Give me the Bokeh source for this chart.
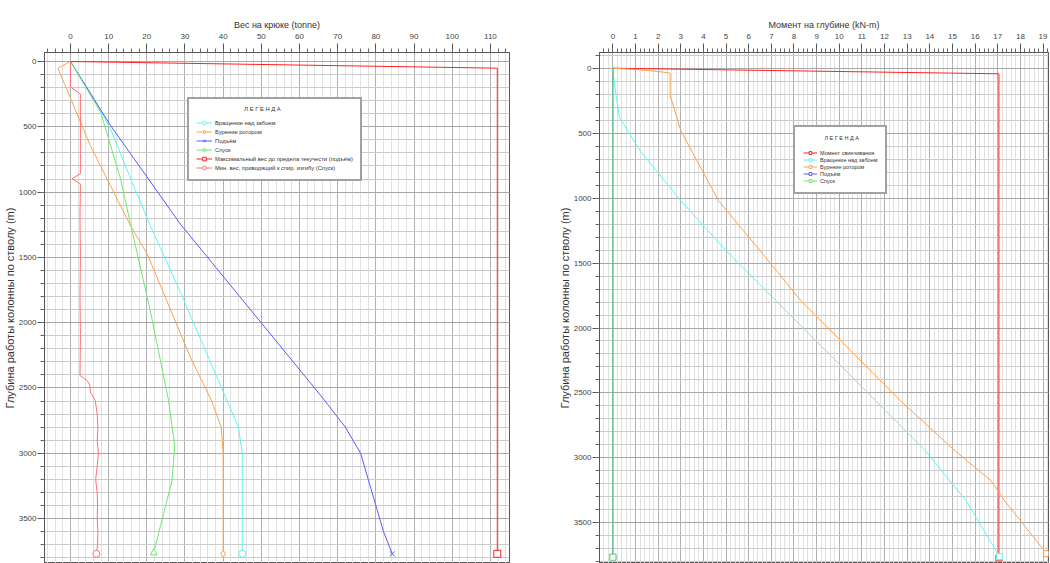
from bokeh.plotting import figure
from bokeh.layouts import row
from bokeh.models import SingleIntervalTicker, Legend, LegendItem, Range1d
from bokeh.embed import file_html
from bokeh.resources import INLINE

FONT = "Liberation Sans"

# ---------------- Left chart: hook load (tonne) vs depth (m) ----------------
rot_off_depth = [0, 100, 300, 515, 900, 1256, 1766, 2596, 2800, 3000, 3770]
rot_off_load = [0, 2.2, 6.4, 10.5, 15.8, 20.9, 28.8, 41.0, 44.0, 45.0, 45.0]

rot_drill_depth = [0, 51, 643, 1256, 1473, 2264, 2600, 2800, 3000, 3770]
rot_drill_load = [0, -3.3, 5.2, 15.7, 20.1, 31.4, 37.0, 39.5, 40.0, 40.0]

pooh_depth = [0, 490, 1245, 2570, 2800, 3000, 3200, 3400, 3600, 3770]
pooh_load = [0, 10.5, 28.8, 65.9, 72.0, 76.0, 78.0, 80.0, 82.0, 84.3]

rih_depth = [0, 388, 896, 1240, 1907, 2596, 2940, 3208, 3463, 3762]
rih_load = [0, 7.9, 13.1, 15.7, 20.9, 25.7, 27.3, 26.6, 24.4, 21.8]

max_yield_depth = [0, 51, 3770]
max_yield_load = [0, 111.8, 111.8]

min_buckle_depth = [0, 196, 248, 859, 898, 937, 1200, 1500, 1800, 2100, 2404, 2443, 2480,
                    2531, 2596, 2700, 2800, 2900, 3000, 3100, 3200, 3300, 3400, 3500, 3600,
                    3700, 3770]
min_buckle_load = [0, 0, 2.6, 2.6, 0.4, 2.6, 2.5, 2.6, 2.5, 2.6, 2.5, 4.4, 5.1,
                   5.2, 6.5, 7.0, 7.2, 7.0, 7.3, 7.0, 6.6, 7.0, 7.1, 7.0, 7.2,
                   7.1, 6.8]

left_labels = [
    "Вращение над забоем",
    "Бурение ротором",
    "Подъём",
    "Спуск",
    "Максимальный вес до предела текучести (подъём)",
    "Мин. вес, приводящий к спир. изгибу (Спуск)",
]

# ---------------- Right chart: torque (kN-m) vs depth (m) ----------------
makeup_depth = [0, 43, 3770]
makeup_torque = [0, 17.05, 17.05]

rot_off_t_depth = [0, 100, 377, 635, 1019, 1404, 1789, 2174, 2559, 2944, 3329, 3759]
rot_off_torque = [0, 0.05, 0.29, 1.2, 3.0, 5.0, 7.2, 9.4, 11.6, 13.8, 15.6, 17.08]

rot_drill_t_depth = [0, 10, 25, 38, 210, 480, 1019, 1404, 1789, 2174, 2559, 2944, 3175, 3329, 3737]
rot_drill_torque = [0, 1.0, 2.0, 2.53, 2.53, 3.0, 4.66, 6.5, 8.3, 10.5, 12.7, 15.1, 16.7, 17.3, 19.16]

pooh_t_depth = [0, 3765]
pooh_torque = [0, 0]

rih_t_depth = [0, 3765]
rih_torque = [0, 0]

right_labels = [
    "Момент свинчивания",
    "Вращение над забоем",
    "Бурение ротором",
    "Подъём",
    "Спуск",
]

CYAN = "#5cf5f5"
ORANGE = "#ffa04a"
BLUE = "#5a5aff"
GREEN = "#6ee86e"
RED = "#ff2020"
LRED = "#ff7070"


def style_fig(p, xlabel, x_interval, x_tick_out):
    xa = p.xaxis[0]
    xa.ticker = SingleIntervalTicker(interval=x_interval, num_minor_ticks=5)
    xa.axis_label = xlabel
    ya = p.yaxis[0]
    ya.ticker = SingleIntervalTicker(interval=500, num_minor_ticks=5)
    ya.axis_label = "Глубина работы колонны по стволу (m)"
    for ax in (xa, ya):
        ax.axis_label_text_font = FONT
        ax.axis_label_text_font_style = "normal"
        ax.axis_label_text_color = "#333333"
        ax.major_label_text_font = FONT
        ax.major_label_text_font_size = "8px"
        ax.major_label_text_color = "#444444"
        ax.major_tick_in = 0
        ax.minor_tick_in = 0
        ax.minor_tick_out = 4
        ax.axis_line_color = "#555555"
        ax.major_tick_line_color = "#555555"
        ax.minor_tick_line_color = "#666666"
    xa.axis_label_text_font_size = "9px"
    ya.axis_label_text_font_size = "11px"
    xa.major_label_standoff = 5
    xa.axis_label_standoff = 1
    ya.major_label_standoff = 1
    ya.axis_label_standoff = 0
    xa.major_tick_out = x_tick_out
    ya.major_tick_out = 7
    p.xgrid.ticker = xa.ticker
    p.ygrid.ticker = ya.ticker
    p.xgrid.grid_line_color = "#b0b0b0"
    p.xgrid.minor_grid_line_color = "#e0e0e0"
    p.ygrid.grid_line_color = "#a8a8a8"
    p.ygrid.minor_grid_line_color = "#cbcbcb"
    p.outline_line_color = "#555555"
    p.background_fill_color = "white"
    p.border_fill_color = "white"


def style_legend(leg, fs, lh, gw, pad, standoff):
    leg.title_text_font = FONT
    leg.title_text_font_size = fs
    leg.title_text_font_style = "normal"
    leg.title_text_color = "#333333"
    leg.title_standoff = standoff
    leg.label_text_font = FONT
    leg.label_text_font_size = fs
    leg.label_text_color = "#333333"
    leg.label_height = lh
    leg.glyph_height = lh
    leg.glyph_width = gw
    leg.label_standoff = 3
    leg.spacing = 0
    leg.padding = pad
    leg.margin = 0
    leg.border_line_color = "#444444"
    leg.border_line_width = 2
    leg.background_fill_alpha = 1


TOP = 52  # shared frame top (plots in a row share their top border)

# Left figure
p1 = figure(width=530, height=563, x_range=Range1d(-6.8, 115.0), y_range=Range1d(3844, -69),
            x_axis_location="above", output_backend="svg", toolbar_location=None,
            min_border_left=44, min_border_right=21, min_border_top=TOP, min_border_bottom=0)
style_fig(p1, "Вес на крюке (tonne)", 10, 9)

left_series = [
    (rot_off_load, rot_off_depth, CYAN, "circle"),
    (rot_drill_load, rot_drill_depth, ORANGE, "diamond"),
    (pooh_load, pooh_depth, BLUE, "x"),
    (rih_load, rih_depth, GREEN, "triangle"),
    (max_yield_load, max_yield_depth, RED, "square"),
    (min_buckle_load, min_buckle_depth, LRED, "circle"),
]
left_items = []
for (xs, ys, col, mk), lab in zip(left_series, left_labels):
    ln = p1.line(xs, ys, line_color=col, line_width=1)
    sc = p1.scatter([xs[-1]], [ys[-1]], marker=mk, size=7, line_color=col, fill_color="white",
                    line_width=1)
    left_items.append(LegendItem(label=lab, renderers=[ln, sc]))

leg1 = Legend(items=left_items, location=(143, 382),
              title="\u00a0" * 30 + "Л Е Г Е Н Д А")
style_legend(leg1, "5.8px", 9, 16, 7, 6)
p1.add_layout(leg1, "center")

# Right figure
p2 = figure(width=520, height=563, x_range=Range1d(-0.59, 19.24), y_range=Range1d(3813, -121),
            x_axis_location="above", output_backend="svg", toolbar_location=None,
            min_border_left=69, min_border_right=2, min_border_top=TOP, min_border_bottom=0)
style_fig(p2, "Момент на глубине (kN-m)", 1, 9)

right_series = [
    (makeup_torque, makeup_depth, RED),
    (rot_off_torque, rot_off_t_depth, CYAN),
    (rot_drill_torque, rot_drill_t_depth, ORANGE),
    (pooh_torque, pooh_t_depth, BLUE),
    (rih_torque, rih_t_depth, GREEN),
]
right_items = []
for (xs, ys, col), lab in zip(right_series, right_labels):
    ln = p2.line(xs, ys, line_color=col, line_width=1)
    sc = p2.scatter([xs[-1]], [ys[-1]], marker="square", size=6, line_color=col,
                    fill_color="white", line_width=1)
    right_items.append(LegendItem(label=lab, renderers=[ln, sc]))

leg2 = Legend(items=right_items, location=(194, 369),
              title="\u00a0" * 14 + "Л Е Г Е Н Д А")
style_legend(leg2, "5.5px", 7, 14, 8, 8)
p2.add_layout(leg2, "center")

layout = row(p1, p2)
open("out.html", "w").write(file_html(layout, INLINE))
